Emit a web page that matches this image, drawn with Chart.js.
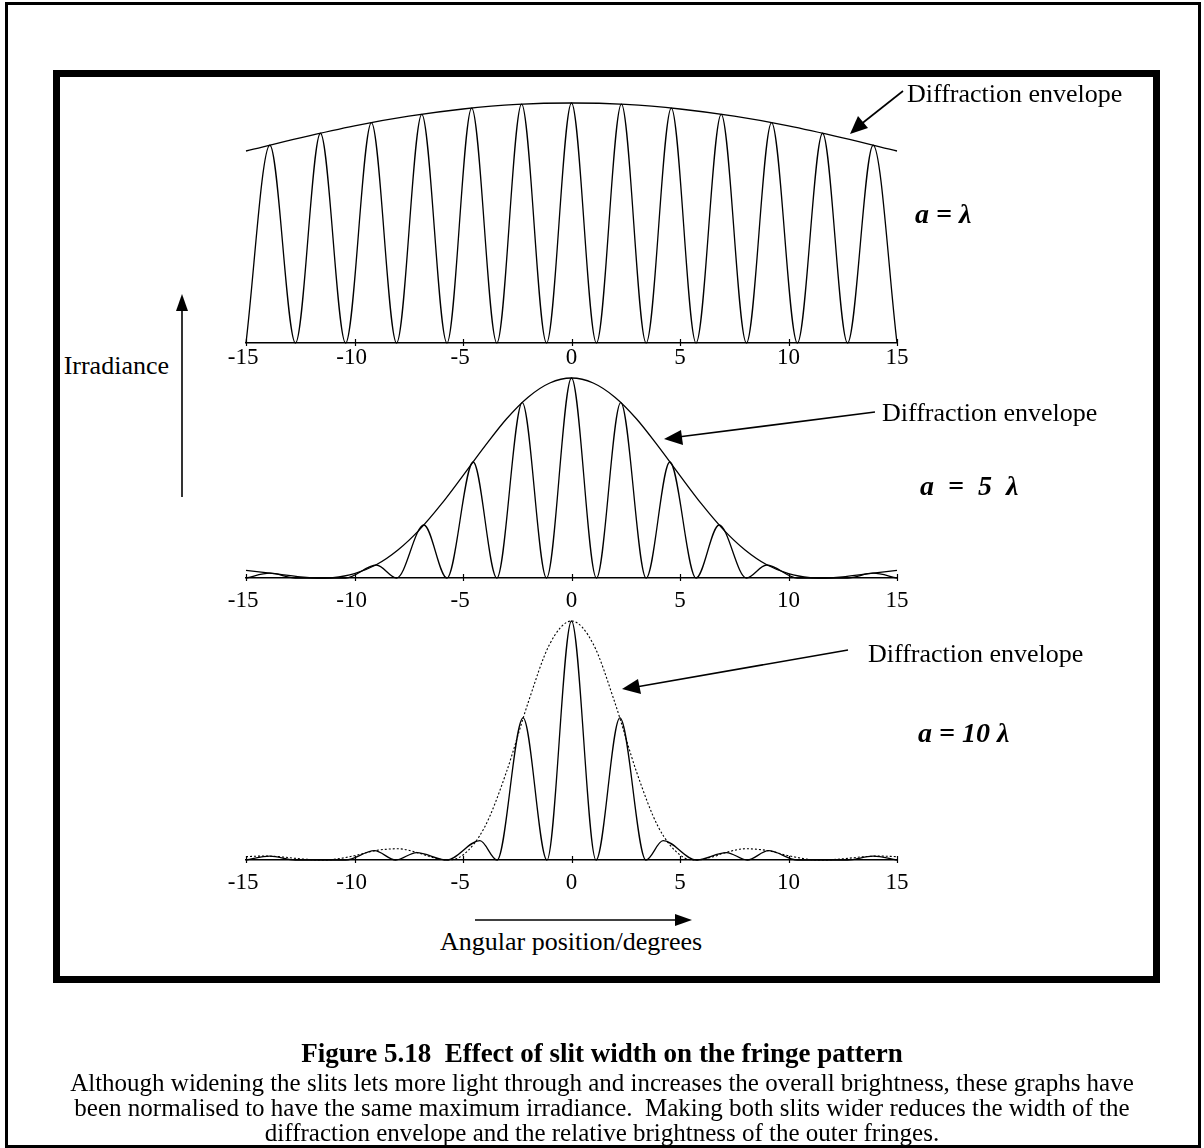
<!DOCTYPE html>
<html>
<head>
<meta charset="utf-8">
<script src="https://cdn.jsdelivr.net/npm/chart.js@4.4.1/dist/chart.umd.min.js"></script>
<style>
  html, body { margin: 0; padding: 0; background: #fff; }
  body {
    width: 1204px; height: 1148px; position: relative; overflow: hidden;
    font-family: "Liberation Serif", "Times New Roman", serif; color: #000;
  }
  .page-border { position: absolute; left: 5px; top: 2px; width: 1196px; height: 1146px; border: 3px solid #000; box-sizing: border-box; }
  .frame { position: absolute; left: 53px; top: 70px; width: 1107px; height: 913px; border: 7px solid #000; box-sizing: border-box; }
  .panel { position: absolute; left: 206px; }
  .txt { position: absolute; font-size: 26px; line-height: 1; white-space: pre; }
  .param { font-weight: bold; font-style: italic; font-size: 28px; }
  .caption { position: absolute; left: 0; width: 1204px; text-align: center; line-height: 1; white-space: pre; }
  .caption.title { font-size: 27px; font-weight: bold; }
  .caption.body { font-size: 25px; }
  svg { position: absolute; left: 0; top: 0; }
</style>
</head>
<body>
<div class="page-border"></div>
<div class="frame"></div>

<canvas id="panel1" class="panel" width="731" height="290" style="top:93px"></canvas>
<canvas id="panel2" class="panel" width="731" height="250" style="top:368px"></canvas>
<canvas id="panel3" class="panel" width="731" height="289" style="top:611px"></canvas>

<div class="txt" style="left:907px; top:81px">Diffraction envelope</div>
<div class="txt" style="left:882px; top:400px">Diffraction envelope</div>
<div class="txt" style="left:868px; top:641px">Diffraction envelope</div>
<div class="txt param" style="left:915px; top:200px">a = λ</div>
<div class="txt param" style="left:920px; top:472px">a  =  5  λ</div>
<div class="txt param" style="left:918px; top:719px">a = 10 λ</div>
<div class="txt" style="right:1035px; top:353px">Irradiance</div>
<div class="txt" style="left:440px; top:929px">Angular position/degrees</div>

<svg width="1204" height="1148">
  <g stroke="#000" stroke-width="1.6" fill="none">
    <line x1="903" y1="91" x2="860" y2="125"/>
    <line x1="875" y1="412" x2="678" y2="437"/>
    <line x1="848" y1="650" x2="636" y2="687"/>
    <line x1="182" y1="497" x2="182" y2="308"/>
    <line x1="475" y1="920" x2="678" y2="920"/>
  </g>
  <g fill="#000">
    <polygon points="850,134 858,116 868,128"/>
    <polygon points="664,439 681,430 683,445"/>
    <polygon points="622,689 638,679 641,694"/>
    <polygon points="182,294 176,311 188,311"/>
    <polygon points="692,920 675,914 675,926"/>
  </g>
</svg>

<div class="caption title" style="top:1040px">Figure 5.18  Effect of slit width on the fringe pattern</div>
<div class="caption body" style="top:1070px">Although widening the slits lets more light through and increases the overall brightness, these graphs have</div>
<div class="caption body" style="top:1095px">been normalised to have the same maximum irradiance.  Making both slits wider reduces the width of the</div>
<div class="caption body" style="top:1120px">diffraction envelope and the relative brightness of the outer fringes.</div>

<script>
// angular positions (degrees) and relative irradiance of fringe maxima / minima
const fringeAngles1 = [-15, -13.9, -12.72, -11.57, -10.41, -9.22, -8.06, -6.9, -5.74, -4.6, -3.44, -2.3, -1.15, 0,
                       1.15, 2.3, 3.44, 4.6, 5.74, 6.9, 8.06, 9.22, 10.41, 11.57, 12.72, 13.9, 15];
const fringeLevels1 = [0, 0.824, 0, 0.874, 0, 0.918, 0, 0.953, 0, 0.979, 0, 0.995, 0, 1,
                       0, 0.995, 0, 0.979, 0, 0.953, 0, 0.918, 0, 0.874, 0, 0.824, 0];
const envAngles1 = [-15, -12.5, -10, -7.5, -5, -2.5, 0, 2.5, 5, 7.5, 10, 12.5, 15];
const envLevels1 = [0.8, 0.855, 0.905, 0.945, 0.975, 0.994, 1, 0.994, 0.975, 0.945, 0.905, 0.855, 0.8];

const fringeAngles2 = [-15, -13.9, -12.72, -10.41, -8.99, -8.06, -6.8, -5.74, -4.53, -3.44, -2.27, -1.15, 0,
                       1.15, 2.27, 3.44, 4.53, 5.74, 6.8, 8.06, 8.99, 10.41, 12.72, 13.9, 15];
const fringeLevels2 = [0, 0.024, 0, 0, 0.065, 0, 0.265, 0, 0.58, 0, 0.877, 0, 1,
                       0, 0.877, 0, 0.58, 0, 0.265, 0, 0.065, 0, 0, 0.024, 0];
const envAngles2 = [-15, -13.5, -12.5, -11.54, -11, -10, -9, -8, -7, -6, -5, -4, -3, -2, -1, 0,
                    1, 2, 3, 4, 5, 6, 7, 8, 9, 10, 11, 11.54, 12.5, 13.5, 15];
const envLevels2 = [0.038, 0.019, 0.006, 0, 0.002, 0.022, 0.066, 0.14, 0.242, 0.369, 0.512, 0.658, 0.795, 0.904, 0.975, 1,
                    0.975, 0.904, 0.795, 0.658, 0.512, 0.369, 0.242, 0.14, 0.066, 0.022, 0.002, 0, 0.006, 0.019, 0.038];

const fringeAngles3 = [-15, -13.9, -12.72, -10.41, -9.08, -8.1, -7.14, -5.74, -4.22, -3.43, -2.23, -1.13, 0,
                       1.13, 2.23, 3.43, 4.22, 5.74, 7.14, 8.1, 9.08, 10.41, 12.72, 13.9, 15];
const fringeLevels3 = [0, 0.016, 0, 0, 0.039, 0, 0.031, 0, 0.081, 0, 0.595, 0, 1,
                       0, 0.595, 0, 0.081, 0, 0.031, 0, 0.039, 0, 0, 0.016, 0];
const envAngles3 = [-15, -14.2, -13.5, -12.5, -11.54, -11, -10, -9, -8, -7, -6.5, -5.74, -5, -4, -3, -2, -1, 0,
                    1, 2, 3, 4, 5, 5.74, 6.5, 7, 8, 9, 10, 11, 11.54, 12.5, 13.5, 14.2, 15];
const envLevels3 = [0.014, 0.0165, 0.014, 0.005, 0, 0.002, 0.018, 0.04, 0.047, 0.028, 0.013, 0, 0.021, 0.138, 0.368, 0.658, 0.904, 1,
                    0.904, 0.658, 0.368, 0.138, 0.021, 0, 0.013, 0.028, 0.047, 0.04, 0.018, 0.002, 0, 0.005, 0.014, 0.0165, 0.014];

const tickValues = [-15, -10, -5, 0, 5, 10, 15];
const serif = '"Liberation Serif", "Times New Roman", serif';

function points(xs, ys) {
  return xs.map((x, i) => ({ x: x, y: ys[i] }));
}

// short tick marks that cross the baseline
const crossTicks = {
  id: 'crossTicks',
  afterDraw(chart) {
    const scale = chart.scales.x;
    const y0 = chart.chartArea.bottom;
    const ctx = chart.ctx;
    ctx.save();
    ctx.strokeStyle = '#000';
    ctx.lineWidth = 1.2;
    tickValues.forEach(v => {
      const px = Math.round(scale.getPixelForValue(v)) + 0.5;
      ctx.beginPath();
      ctx.moveTo(px, y0 - 4);
      ctx.lineTo(px, y0 + 3);
      ctx.stroke();
    });
    ctx.restore();
  }
};

function makePanel(id, fringe, envelope, dashed, labelGap) {
  return new Chart(document.getElementById(id), {
    type: 'line',
    data: {
      datasets: [
        { data: fringe, borderColor: '#000', borderWidth: 1.3, pointRadius: 0,
          cubicInterpolationMode: 'monotone', clip: false },
        { data: envelope, borderColor: '#000', borderWidth: dashed ? 1.1 : 1.3, borderDash: dashed ? [2, 2] : [],
          pointRadius: 0, cubicInterpolationMode: 'monotone', clip: false }
      ]
    },
    options: {
      responsive: false,
      animation: false,
      layout: { padding: { left: 40, right: 40, top: 10, bottom: 0 } },
      plugins: { legend: { display: false }, tooltip: { enabled: false } },
      scales: {
        x: {
          type: 'linear', min: -15, max: 15,
          afterFit: s => { s.height = 40; },
          grid: { display: false, drawTicks: false },
          border: { display: true, color: '#000', width: 1.5 },
          afterBuildTicks: s => { s.ticks = tickValues.map(v => ({ value: v })); },
          ticks: {
            padding: labelGap, color: '#000', maxRotation: 0,
            font: { family: serif, size: 23 },
            callback: v => (v < 0 ? v + ' ' : String(v))
          }
        },
        y: { display: false, min: 0, max: 1 }
      }
    },
    plugins: [crossTicks]
  });
}

makePanel('panel1', points(fringeAngles1, fringeLevels1), points(envAngles1, envLevels1), false, 1);
makePanel('panel2', points(fringeAngles2, fringeLevels2), points(envAngles2, envLevels2), false, 9);
makePanel('panel3', points(fringeAngles3, fringeLevels3), points(envAngles3, envLevels3), true, 9);
</script>
</body>
</html>
